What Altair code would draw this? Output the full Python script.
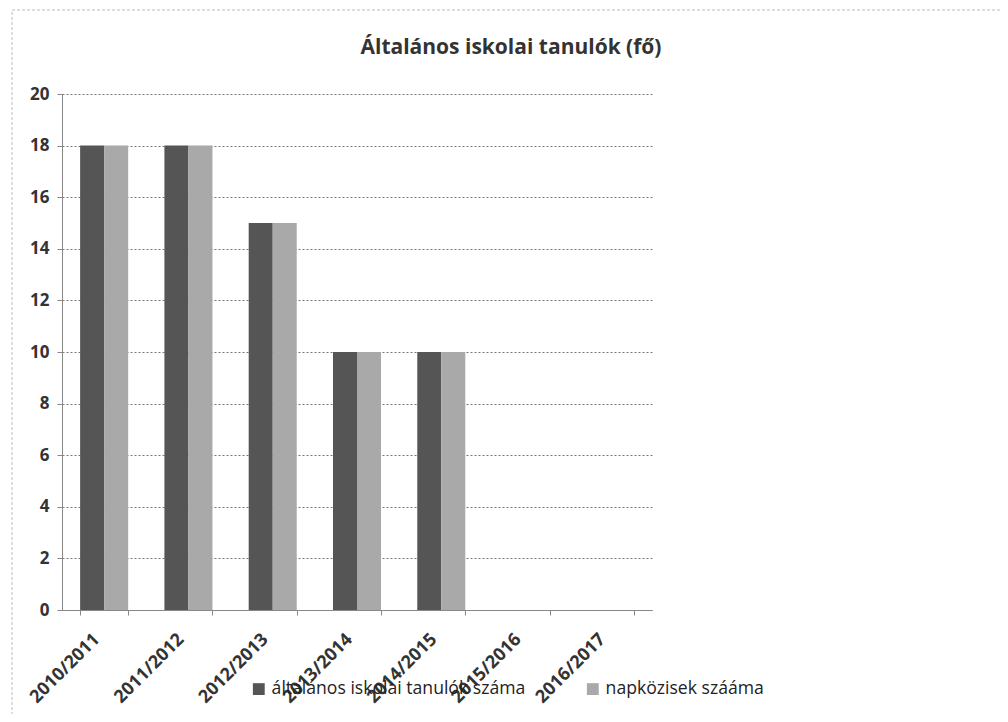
import altair as alt
import pandas as pd

categories = ["2010/2011", "2011/2012", "2012/2013", "2013/2014", "2014/2015", "2015/2016", "2016/2017"]
series_names = ["általános iskolai tanulók száma", "napközisek szááma"]
tanulok = [18, 18, 15, 10, 10, None, None]
napkozisek = [18, 18, 15, 10, 10, None, None]
title_text = "Általános iskolai tanulók (fő)"

rows = []
for c, a, b in zip(categories, tanulok, napkozisek):
    if a is not None:
        rows.append({"ev": c, "sorozat": series_names[0], "ertek": a})
    if b is not None:
        rows.append({"ev": c, "sorozat": series_names[1], "ertek": b})
df = pd.DataFrame(rows)

FONT = "Open Sans"

bars = alt.Chart(df).mark_bar().encode(
    x=alt.X("ev:N", sort=categories,
            scale=alt.Scale(domain=categories, paddingInner=0.43, paddingOuter=0.215),
            axis=alt.Axis(title=None, labelAngle=-45, labelFont=FONT, labelFontSize=18,
                          labelFontWeight="bold", labelColor="#333", tickBand="extent",
                          domainColor="#888", tickColor="#888", tickSize=5, labelPadding=15,
                          labelOffset=-14, grid=False)),
    xOffset=alt.XOffset("sorozat:N", sort=series_names),
    y=alt.Y("ertek:Q", scale=alt.Scale(domain=[0, 20]),
            axis=alt.Axis(title=None, values=list(range(0, 21, 2)), labelFont=FONT,
                          labelFontSize=17, labelFontWeight="bold", labelColor="#333",
                          domainColor="#888", tickColor="#888", tickSize=5, labelPadding=8,
                          gridColor="#777", gridDash=[2, 2], gridWidth=1)),
    color=alt.Color("sorozat:N", sort=series_names,
                    scale=alt.Scale(domain=series_names, range=["#555555", "#a9a9a9"]),
                    legend=alt.Legend(title=None, orient="none", direction="horizontal",
                                      legendX=188, legendY=586, symbolType="square",
                                      symbolSize=140, symbolStrokeWidth=0,
                                      labelFont=FONT, labelFontSize=17.6, labelColor="#222",
                                      labelLimit=400, columnPadding=58)),
)

frame = alt.Chart(pd.DataFrame({"k": [0]})).mark_rect(
    fillOpacity=0, stroke="#bbbbbb", strokeWidth=1, strokeDash=[3, 2]
).encode(
    x=alt.value(-50), x2=alt.value(941), y=alt.value(-84), y2=alt.value(640)
)

title = alt.Chart(pd.DataFrame({"t": [title_text]})).mark_text(
    font=FONT, fontSize=21, fontWeight="bold", color="#333", align="center", baseline="middle"
).encode(text="t:N", x=alt.value(449), y=alt.value(-46))

chart = alt.layer(frame, bars, title).properties(
    width=590, height=516,
    padding={"left": 54, "top": 86, "right": 348, "bottom": 104},
    autosize=alt.AutoSizeParams(type="none"),
).configure_view(stroke=None)

chart.save("out.html", embed_options={"renderer": "svg", "actions": False})
